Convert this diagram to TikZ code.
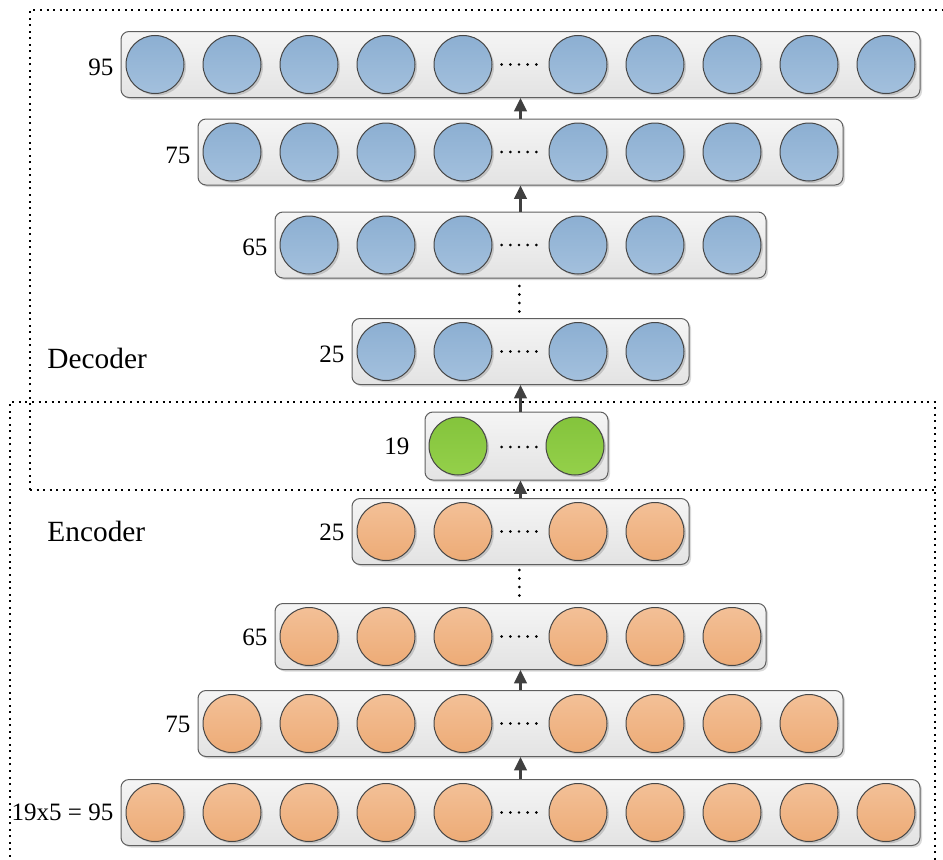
\documentclass[tikz,border=0pt]{standalone}
\usepackage{fontspec}
\setmainfont{Liberation Serif}
\usetikzlibrary{arrows.meta,shadows}

\definecolor{boxline}{RGB}{95,95,95}
\definecolor{unitline}{RGB}{70,70,70}
\definecolor{bluetop}{RGB}{140,175,210}
\definecolor{bluebot}{RGB}{163,192,221}
\definecolor{orangetop}{RGB}{243,192,151}
\definecolor{orangebot}{RGB}{237,171,118}
\definecolor{greentop}{RGB}{132,196,60}
\definecolor{greenbot}{RGB}{148,208,74}
\definecolor{arrowgray}{RGB}{64,64,64}

\tikzset{every picture/.style={line width=0.75pt}}
\tikzset{
  frame/.style={line width=1.4pt, dash pattern=on 1.5pt off 3.4pt},
  layer/.style={draw=boxline, rounded corners=6pt, top color=black!4, bottom color=black!11,
    minimum height=49.5pt, inner sep=0pt,
    drop shadow={shadow xshift=1.5pt, shadow yshift=-1.5pt, opacity=0.15, fill=black}},
  unit/.style={circle, draw=unitline, minimum size=43.5pt, inner sep=0pt,
    drop shadow={shadow xshift=1.5pt, shadow yshift=-1.5pt, opacity=0.15, fill=black}},
  dec/.style={top color=bluetop, bottom color=bluebot},
  enc/.style={top color=orangetop, bottom color=orangebot},
  code/.style={top color=greentop, bottom color=greenbot},
  numtxt/.style={font=\fontsize{18.75}{22}\selectfont, inner sep=0pt},
  parttxt/.style={font=\fontsize{22}{26}\selectfont, inner sep=0pt, anchor=west},
  flow/.style={draw=arrowgray, line width=1.6pt, -{Triangle[width=9.5pt,length=10pt]}},
}

\begin{document}
\begin{tikzpicture}[x=0.75pt,y=0.75pt,yscale=-1,xscale=1]
\path[use as bounding box] (0,0) rectangle (943,860);

% dotted frames round the two halves
\draw[frame] (30,490) -- (30,10) -- (950,10);
\draw[frame] (30,490) -- (935,490);
\draw[frame] (10,870) -- (10,402) -- (935,402) -- (935,870);

% Text Node
\node[parttxt] (dectxt) at (47,358) {Decoder};
% Text Node
\node[parttxt] (enctxt) at (47,531) {Encoder};

% layers: name / centre y / units per side / colour / label drop / size label
\foreach \nm/\cy/\n/\st/\dy/\lab in {d95/64.5/5/dec/3/95, d75/152/4/dec/3/75, d65/245/3/dec/2/65, d25/351.5/2/dec/3/25,
    e25/531.5/2/enc/1/25, e65/636.5/3/enc/1/65, e75/723.5/4/enc/1/75, e95/812.5/5/enc/0/19x5 = 95}{
  \node[layer, minimum width={(183+154*(\n-1))*0.75pt}] (\nm) at (520.5,\cy) {};
  \foreach \k in {1,...,\n}{
    \node[unit, \st] (\nm-l\k) at ({520.5-57.5-77*(\k-1)},\cy) {};
    \node[unit, \st] (\nm-r\k) at ({520.5+57.5+77*(\k-1)},\cy) {};
  }
  \foreach \i in {-2,...,2} \fill ({519+8.7*\i},\cy) circle (1.1pt);
  \node[numtxt, anchor=east] (\nm-n) at ([xshift=-5pt, yshift=\dy*0.75pt]\nm.west) {\lab};
}

% code layer
\node[layer, minimum width=137.25pt, minimum height=51pt] (g19) at (516.5,446) {};
\node[unit, code] (g19-l1) at (458,446) {};
\node[unit, code] (g19-r1) at (575,446) {};
\foreach \i in {-2,...,2} \fill ({519+8.7*\i},447) circle (1.1pt);
\node[numtxt, anchor=east] (g19-n) at ([xshift=-11pt]g19.west) {19};

% skipped layers
\foreach \y in {286,294.5,303,311.5} \fill (519.3,\y) circle (1.1pt);
\foreach \y in {570,578.5,587,595.5} \fill (519.3,\y) circle (1.1pt);

% arrows
\draw[flow] (e95.north) -- (e75.south);
\draw[flow] (e75.north) -- (e65.south);
\draw[flow] (e25.north) -- (e25.north |- g19.south);
\draw[flow] (g19.north -| d25.south) -- (d25.south);
\draw[flow] (d65.north) -- (d75.south);
\draw[flow] (d75.north) -- (d95.south);

\end{tikzpicture}
\end{document}
